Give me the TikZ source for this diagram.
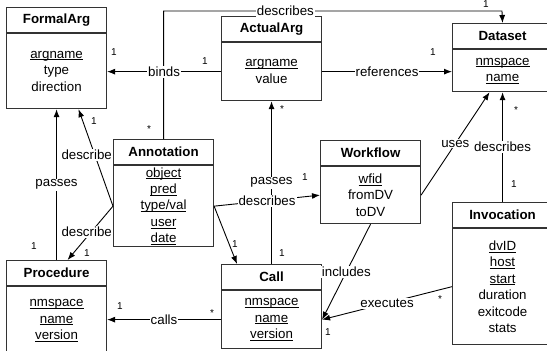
\documentclass[tikz,border=0pt]{standalone}
\usepackage{fontspec}
\setmainfont{Liberation Sans}
\usetikzlibrary{positioning,arrows.meta}

\newcommand{\umlfont}{\fontsize{13.3}{16.4}\selectfont}
\newcommand{\attr}[1]{\underline{\raisebox{0pt}[\height][0pt]{#1}}}

\tikzset{
  classhead/.style={draw=black!80, line width=1.1pt, fill=white, font=\umlfont\bfseries,
    minimum width=100pt, minimum height=25pt, inner sep=0pt, anchor=north west},
  classbody/.style={draw=black!80, line width=1.1pt, fill=white, font=\umlfont,
    align=center, minimum width=100pt, inner sep=0pt},
  assoc/.style={line width=0.9pt, black, -{Latex[length=8pt,width=6pt]}},
  lbl/.style={fill=white, inner sep=1pt, font=\umlfont},
  mult/.style={inner sep=0pt, font=\fontsize{10}{12}\selectfont}
}

\begin{document}
\begin{tikzpicture}[x=1pt,y=-1pt]
  \useasboundingbox (0,0) rectangle (547,351);

  % classes
  \node[classhead] (fa) at (6,7) {FormalArg};
  \node[classbody, minimum height=75pt, below=0pt of fa] (fa-b) {\attr{argname}\\type\\direction};
  \node[classhead] (aa) at (221,16) {ActualArg};
  \node[classbody, minimum height=58pt, below=0pt of aa] (aa-b) {\attr{argname}\\value};
  \node[classhead] (ds) at (452,23) {Dataset};
  \node[classbody, minimum height=42pt, below=0pt of ds] (ds-b) {\attr{nmspace}\\\attr{name}};
  \node[classhead] (an) at (113,139) {Annotation};
  \node[classbody, minimum height=81pt, below=0pt of an] (an-b) {\attr{object}\\\attr{pred}\\\attr{type/val}\\\attr{user}\\\attr{date}};
  \node[classhead] (wf) at (320,140) {Workflow};
  \node[classbody, minimum height=57pt, below=0pt of wf] (wf-b) {\attr{wfid}\\fromDV\\toDV};
  \node[classhead] (pr) at (6,260) {Procedure};
  \node[classbody, minimum height=68pt, below=0pt of pr] (pr-b) {\attr{nmspace}\\\attr{name}\\\attr{version}};
  \node[classhead] (ca) at (221,264) {Call};
  \node[classbody, minimum height=58pt, below=0pt of ca] (ca-b) {\attr{nmspace}\\\attr{name}\\\attr{version}};
  \node[classhead] (iv) at (452,202) {Invocation};
  \node[classbody, minimum height=116pt, below=0pt of iv] (iv-b) {\attr{dvID}\\\attr{host}\\\attr{start}\\duration\\exitcode\\stats};

  % associations
  \coordinate (topline) at (502,11);
  \draw[assoc] (an.north) |- node[lbl, pos=0.68] (l-top) {describes} (topline) -- (ds.north);
  \draw[assoc] (aa-b.west) -- node[lbl] (l-binds) {binds} (aa-b.west -| fa-b.east);
  \draw[assoc] (aa-b.east) -- node[lbl] (l-refs) {references} (aa-b.east -| ds-b.west);
  \draw[assoc] (pr.north) -- node[lbl] (l-ppass) {passes} (pr.north |- fa-b.south);
  \draw[assoc] (ca.north) -- node[lbl, pos=0.5] (l-cpass) {passes} (ca.north |- aa-b.south);
  \draw[assoc] (an-b.east) -- node[lbl] (l-wdesc) {describes} (wf-b.west);
  \draw[assoc] (an-b.east) -- ([xshift=16pt]ca.north west);
  \draw[assoc] (an-b.west) -- ([xshift=22pt]fa-b.south);
  \draw[assoc] (an-b.west) -- ([xshift=11pt]pr.north);
  \draw[assoc] (ca-b.west) -- node[lbl] (l-calls) {calls} (ca-b.west -| pr-b.east);
  \draw[assoc] (wf-b.east) -- node[lbl] (l-uses) {uses} ([xshift=-13pt]ds-b.south);
  \draw[assoc] (iv.north) -- node[lbl] (l-idesc) {describes} (iv.north |- ds-b.south);
  \draw[assoc] (wf-b.south) -- node[lbl] (l-incl) {includes} (ca-b.east);
  \draw[assoc] (iv-b.west) -- node[lbl] (l-exec) {executes} (ca-b.east);
  \node[lbl, anchor=east] (l-fdesc) at (113,155) {describe};
  \node[lbl, anchor=east] (l-pdesc) at (113,232) {describe};

  % multiplicities
  \node[mult] (m-fa1) at (114,52) {1};
  \node[mult] (m-aa1) at (205,61) {1};
  \node[mult] (m-ds1) at (433,52) {1};
  \node[mult] (m-an1) at (149,129) {*};
  \node[mult] (m-ds2) at (486,4.5) {1};
  \node[mult] (m-aa2) at (282,109) {*};
  \node[mult] (m-ca1) at (282,253) {1};
  \node[mult] (m-wf1) at (305,177) {1};
  \node[mult] (m-ca2) at (235,244) {1};
  \node[mult] (m-fa2) at (94,121) {1};
  \node[mult] (m-pr1) at (87,253) {1};
  \node[mult] (m-pr2) at (34,246) {1};
  \node[mult] (m-pr3) at (120,306) {1};
  \node[mult] (m-ca3) at (212,313) {*};
  \node[mult] (m-ds3) at (516,110) {*};
  \node[mult] (m-iv1) at (514,184) {1};
  \node[mult] (m-iv2) at (440,299) {*};
  \node[mult] (m-ca4) at (328,332) {1};
\end{tikzpicture}
\end{document}
